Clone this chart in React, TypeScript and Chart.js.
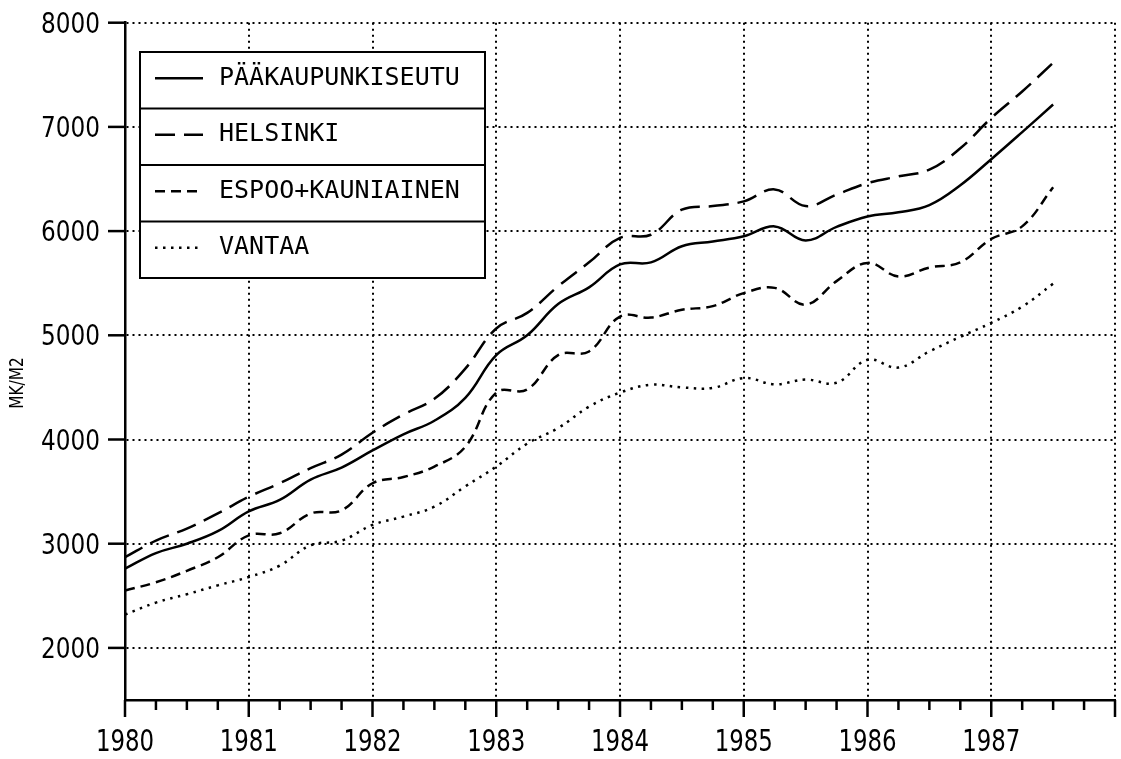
import React, { useEffect, useRef } from "react";
import { Chart, registerables } from "chart.js";

Chart.register(...registerables);

// Quarterly observation points (years)
const periods = [
  1980, 1980.25, 1980.5, 1980.75,
  1981, 1981.25, 1981.5, 1981.75,
  1982, 1982.25, 1982.5, 1982.75,
  1983, 1983.25, 1983.5, 1983.75,
  1984, 1984.25, 1984.5, 1984.75,
  1985, 1985.25, 1985.5, 1985.75,
  1986, 1986.25, 1986.5, 1986.75,
  1987, 1987.25, 1987.5,
];

const seriesNames = ["PÄÄKAUPUNKISEUTU", "HELSINKI", "ESPOO+KAUNIAINEN", "VANTAA"];

const paakaupunkiseutu = [
  2760, 2910, 3000, 3120, 3310, 3420, 3615, 3730, 3895, 4050, 4180, 4400,
  4810, 5000, 5300, 5460, 5680, 5700, 5855, 5900, 5950, 6045, 5910, 6040,
  6140, 6180, 6250, 6440, 6690, 6950, 7215,
];
const helsinki = [
  2870, 3030, 3145, 3290, 3450, 3580, 3725, 3855, 4065, 4240, 4390, 4680,
  5065, 5215, 5470, 5700, 5935, 5965, 6205, 6240, 6285, 6400, 6240, 6350,
  6460, 6525, 6590, 6795, 7085, 7340, 7615,
];
const espooKauniainen = [
  2550, 2630, 2740, 2870, 3080, 3100, 3290, 3320, 3580, 3640, 3740, 3930,
  4450, 4480, 4810, 4845, 5180, 5170, 5245, 5280, 5405, 5455, 5295, 5520,
  5695, 5565, 5650, 5700, 5925, 6045, 6420,
];
const vantaa = [
  2320, 2435, 2515, 2600, 2680, 2790, 2985, 3030, 3180, 3260, 3355, 3550,
  3740, 3960, 4110, 4315, 4450, 4525, 4500, 4495, 4590, 4530, 4575, 4545,
  4765, 4690, 4845, 4985, 5120, 5275, 5495,
];

const yearTicks = [1980, 1981, 1982, 1983, 1984, 1985, 1986, 1987, 1988];
const yearLabels = ["1980", "1981", "1982", "1983", "1984", "1985", "1986", "1987", ""];
const valueTicks = [2000, 3000, 4000, 5000, 6000, 7000, 8000];
const valueLabels = ["2000", "3000", "4000", "5000", "6000", "7000", "8000"];
const yAxisTitle = "MK/M2";

const dashStyles: number[][] = [[], [20, 9], [10, 6], [2.5, 5.5]];

const TICK_FONT = "'DejaVu Sans Condensed', 'Liberation Sans Narrow', sans-serif";
const LEGEND_FONT = "'DejaVu Sans Mono', 'Liberation Mono', monospace";

const plotterPlugin = {
  id: "plotterDecor",
  afterDraw(chart: any) {
    const { ctx, chartArea } = chart;
    const x = chart.scales.x;
    const y = chart.scales.y;
    ctx.save();
    ctx.strokeStyle = "#000";
    ctx.fillStyle = "#000";
    ctx.setLineDash([]);
    ctx.lineCap = "butt";

    const seg = (x1: number, y1: number, x2: number, y2: number) => {
      ctx.beginPath();
      ctx.moveTo(x1, y1);
      ctx.lineTo(x2, y2);
      ctx.stroke();
    };

    // x axis ticks: major at years, minor at quarters
    ctx.lineWidth = 2.5;
    yearTicks.forEach((t) => {
      const px = x.getPixelForValue(t);
      seg(px, chartArea.bottom, px, chartArea.bottom + 17);
    });
    yearTicks.slice(0, -1).forEach((t) => {
      [0.25, 0.5, 0.75].forEach((q) => {
        const px = x.getPixelForValue(t + q);
        seg(px, chartArea.bottom, px, chartArea.bottom + 10);
      });
    });
    // y axis ticks (outward, left)
    valueTicks.forEach((v) => {
      const py = y.getPixelForValue(v);
      seg(chartArea.left - 17, py, chartArea.left, py);
    });

    // tick labels (narrow plotter-like lettering)
    ctx.font = `31px ${TICK_FONT}`;
    ctx.textAlign = "center";
    ctx.textBaseline = "alphabetic";
    yearTicks.forEach((t, i) => {
      const lbl = yearLabels[i];
      if (!lbl) return;
      const px = x.getPixelForValue(t);
      ctx.save();
      ctx.translate(px, chartArea.bottom + 51);
      ctx.scale(0.82, 1);
      ctx.fillText(lbl, 0, 0);
      ctx.restore();
    });
    ctx.font = `28px ${TICK_FONT}`;
    ctx.textAlign = "right";
    valueTicks.forEach((v, i) => {
      const py = y.getPixelForValue(v);
      ctx.save();
      ctx.translate(chartArea.left - 25, py + 10);
      ctx.scale(0.92, 1);
      ctx.fillText(valueLabels[i], 0, 0);
      ctx.restore();
    });

    // y axis title
    ctx.save();
    ctx.translate(18, 383);
    ctx.rotate(-Math.PI / 2);
    ctx.font = `20px ${TICK_FONT}`;
    ctx.textAlign = "center";
    ctx.textBaseline = "middle";
    ctx.scale(0.85, 1);
    ctx.fillText(yAxisTitle, 0, 0);
    ctx.restore();

    // legend box
    const lx = chartArea.left + 15;
    const ly = 52;
    const lw = 345;
    const rh = 56.5;
    const n = chart.data.datasets.length;
    ctx.fillStyle = "#fff";
    ctx.fillRect(lx, ly, lw, rh * n);
    ctx.fillStyle = "#000";
    ctx.lineWidth = 2;
    ctx.strokeRect(lx, ly, lw, rh * n);
    for (let i = 1; i < n; i++) {
      seg(lx, ly + rh * i, lx + lw, ly + rh * i);
    }
    ctx.font = `25px ${LEGEND_FONT}`;
    ctx.textAlign = "left";
    ctx.textBaseline = "middle";
    chart.data.datasets.forEach((ds: any, i: number) => {
      const cy = ly + rh * i + rh / 2 - 2;
      ctx.save();
      ctx.lineWidth = 2.5;
      ctx.setLineDash(ds.borderDash || []);
      seg(lx + 15, cy, lx + 63, cy);
      ctx.restore();
      ctx.fillText(ds.label, lx + 79, cy);
    });
    ctx.restore();
  },
};

export default function App() {
  const canvasRef = useRef<HTMLCanvasElement | null>(null);

  useEffect(() => {
    const canvas = canvasRef.current;
    if (!canvas) return;
    const seriesValues = [paakaupunkiseutu, helsinki, espooKauniainen, vantaa];
    const chart = new Chart(canvas, {
      type: "line",
      data: {
        datasets: seriesNames.map((name, i) => ({
          label: name,
          data: periods.map((p, j) => ({ x: p, y: seriesValues[i][j] })),
          borderColor: "#000",
          borderWidth: 2.5,
          borderDash: dashStyles[i],
          pointRadius: 0,
          tension: 0.4,
          fill: false,
        })),
      },
      options: {
        responsive: false,
        animation: false,
        layout: { padding: { top: 22.7, right: 6, left: 0, bottom: 0 } },
        plugins: {
          legend: { display: false },
          tooltip: { enabled: false },
          title: { display: false },
        },
        scales: {
          x: {
            type: "linear",
            min: 1980,
            max: 1988,
            afterBuildTicks: (axis: any) => {
              axis.ticks = yearTicks.map((v) => ({ value: v }));
            },
            afterFit: (axis: any) => {
              axis.height = 59;
              axis.paddingLeft = 0;
              axis.paddingRight = 0;
              axis.paddingTop = 0;
              axis.paddingBottom = 0;
            },
            ticks: { display: false },
            grid: { color: "#000", lineWidth: 2, drawTicks: false },
            border: { display: true, color: "#000", width: 2.5, dash: [2, 4] },
          },
          y: {
            type: "linear",
            min: 1500,
            max: 8000,
            afterBuildTicks: (axis: any) => {
              axis.ticks = valueTicks.map((v) => ({ value: v }));
            },
            afterFit: (axis: any) => {
              axis.width = 125;
              axis.paddingLeft = 0;
              axis.paddingRight = 0;
              axis.paddingTop = 0;
              axis.paddingBottom = 0;
            },
            ticks: { display: false },
            grid: { color: "#000", lineWidth: 2, drawTicks: false },
            border: { display: true, color: "#000", width: 2.5, dash: [2, 4] },
          },
        },
      },
      plugins: [plotterPlugin],
    } as any);
    return () => chart.destroy();
  }, []);

  return (
    <div style={{ position: "absolute", left: 0, top: 0, width: 1121, height: 759, background: "#fff" }}>
      <canvas ref={canvasRef} width={1121} height={759} style={{ display: "block" }} />
    </div>
  );
}
